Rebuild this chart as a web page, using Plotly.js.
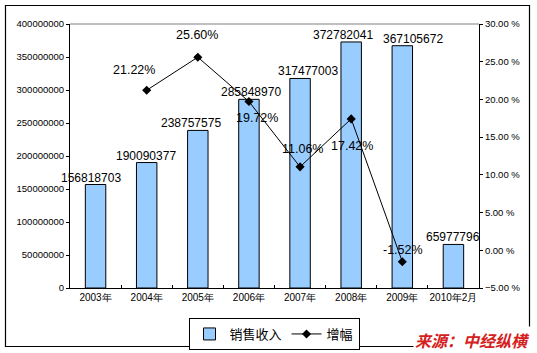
<!DOCTYPE html>
<html><head><meta charset="utf-8">
<script src="https://cdn.plot.ly/plotly-3.0.1.min.js"></script>
<style>html,body{margin:0;padding:0;background:#fff;}#c{width:537px;height:353px;}</style>
</head><body><div id="c"></div>
<script>
var categories = ["2003年","2004年","2005年","2006年","2007年","2008年","2009年","2010年2月"];
var revenue = [156818703,190090377,238757575,285848970,317477003,372782041,367105672,65977796];
var growthCats = ["2004年","2005年","2006年","2007年","2008年","2009年"];
var growth = [21.22,25.60,19.72,11.06,17.42,-1.52];
var growthLabels = ["21.22%","25.60%","19.72%","11.06%","17.42%","-1.52%"];
var labelOffsets = [[-13,-20],[-1,-22],[8,16],[2,-18],[1,27],[1,-12]];
var barLabelShift = [-5,-1,-7,2,8,-8,11,0];

var L=70,R=479,T=24,B=288,W=537,H=353;
function px(x){return (x-L)/(R-L);} function py(y){return (B-y)/(B-T);}

var traces = [
 {type:'bar', name:'销售收入', x:categories, y:revenue,
  marker:{color:'#99ccff', line:{color:'#000', width:1}}, hoverinfo:'none'},
 {type:'scatter', mode:'lines+markers', name:'增幅', x:growthCats, y:growth, yaxis:'y2',
  line:{color:'#000', width:1}, marker:{symbol:'diamond', size:7, color:'#000'}, hoverinfo:'none'}
];

var ann = revenue.map(function(v,i){return {x:categories[i], y:v, xref:'x', yref:'y', text:String(v),
  showarrow:false, yanchor:'bottom', xanchor:'center', xshift:barLabelShift[i], yshift:-2,
  font:{family:'Liberation Sans, Arial', size:12, color:'#000'}};});
growth.forEach(function(v,i){ann.push({x:growthCats[i], y:v, xref:'x', yref:'y2', text:growthLabels[i],
  showarrow:true, arrowcolor:'rgba(0,0,0,0)', ax:labelOffsets[i][0], ay:labelOffsets[i][1],
  font:{family:'Liberation Sans, Arial', size:12.5, color:'#000'}});});
ann.push({xref:'paper', yref:'paper', x:px(472), y:py(340), text:'<b><i>来源：中经纵横</i></b>', showarrow:false,
  font:{family:'Noto Sans CJK SC', size:16, color:'#d42020'}, bgcolor:'#fff', xanchor:'center', yanchor:'middle'});

var layout = {
 width:W, height:H, margin:{l:L, r:W-R, t:T, b:H-B, pad:0, autoexpand:false},
 paper_bgcolor:'#fff', plot_bgcolor:'#fff', bargap:0.6, showlegend:true,
 font:{family:'Liberation Sans, Arial', color:'#000'},
 xaxis:{type:'category', range:[-0.5, categories.length-0.5], autorange:false, showline:true, linecolor:'#000', linewidth:1,
   ticks:'inside', ticklen:3, tickcolor:'#000', automargin:false,
   tickson:'boundaries', tickangle:0, tickfont:{size:10}, showgrid:false, zeroline:false, fixedrange:true},
 yaxis:{range:[0,400000000], dtick:50000000, tickformat:'d', showline:true, linecolor:'#000', linewidth:1, automargin:false,
   ticks:'outside', ticklen:3, tickcolor:'#000', showgrid:false, zeroline:false, tickfont:{size:9.5}},
 yaxis2:{overlaying:'y', side:'right', range:[-5,30], dtick:5, tickformat:'.2f', ticksuffix:' %', showline:true, automargin:false,
   linecolor:'#000', linewidth:1, ticks:'outside', ticklen:3, tickcolor:'#000', showgrid:false, zeroline:false,
   tickfont:{size:9.5}},
 legend:{orientation:'h', x:px(274), y:py(318), xanchor:'center', yanchor:'top', bordercolor:'#000', borderwidth:1,
   font:{size:13, family:'Noto Sans CJK SC'}, bgcolor:'#fff', itemwidth:30, tracegroupgap:0},
 shapes:[
  {type:'line', xref:'paper', yref:'paper', x0:0, x1:1, y0:1, y1:1, line:{color:'#808080', width:1}},
  {type:'rect', xref:'paper', yref:'paper', x0:px(5.5), x1:px(529.5), y0:py(346.5), y1:py(5.5), line:{color:'#000', width:1.2}, layer:'below'}
 ],
 annotations:ann
};
Plotly.newPlot('c', traces, layout, {displayModeBar:false, staticPlot:true});
</script></body></html>
